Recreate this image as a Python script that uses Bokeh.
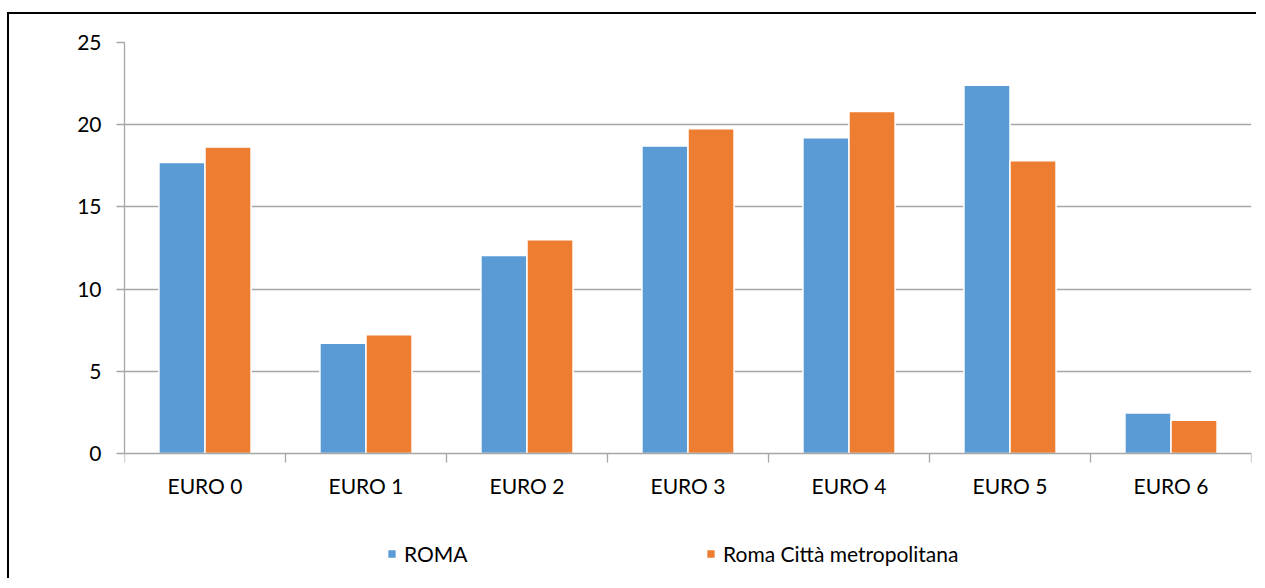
import numpy as np
from bokeh.plotting import figure
from bokeh.models import ColumnDataSource, FixedTicker, Range1d, Legend, LegendItem
from bokeh.embed import file_html
from bokeh.resources import INLINE

categories = ["EURO 0", "EURO 1", "EURO 2", "EURO 3", "EURO 4", "EURO 5", "EURO 6"]
roma = [17.7, 6.7, 12.05, 18.7, 19.2, 22.4, 2.47]
roma_citta = [18.65, 7.22, 13.0, 19.75, 20.8, 17.8, 2.03]
y_ticks = [0, 5, 10, 15, 20, 25]
series_names = ["ROMA", "Roma Città metropolitana"]
colors = ["#5B9BD5", "#ED7D31"]

FONT = "Lato"
n = len(categories)
centers = np.arange(n) + 0.5
bar_w = 0.286

# plot area: 411 px for 0..25, plus extra room under 0 for labels and legend
data_px = 411
extra_px = 125
y_lo = -extra_px * y_ticks[-1] / data_px

src = ColumnDataSource(dict(
    x1=centers - bar_w / 2, x2=centers + bar_w / 2,
    roma=roma, citta=roma_citta,
))

p = figure(
    frame_width=1127, frame_height=data_px + extra_px,
    x_range=Range1d(0, n), y_range=Range1d(y_lo, y_ticks[-1]),
    output_backend="svg", toolbar_location=None,
    min_border_left=115, min_border_right=5,
    min_border_top=28, min_border_bottom=0,
    background_fill_color="white", border_fill_color="white",
    outline_line_color=None,
)
p.styles = {"border-left": "2px solid black", "border-top": "2px solid black",
            "margin-top": "12px", "margin-left": "7px"}

r1 = p.vbar(x="x1", top="roma", width=bar_w, source=src,
            fill_color=colors[0], line_color="white", line_width=1.5)
r2 = p.vbar(x="x2", top="citta", width=bar_w, source=src,
            fill_color=colors[1], line_color="white", line_width=1.5)

grid_col = "#a6a6a6"

# x axis at y=0: labels at category centres, ticks at category boundaries
xa = p.xaxis[0]
xa.fixed_location = 0
xa.ticker = FixedTicker(ticks=list(centers), minor_ticks=list(np.arange(n + 1)))
xa.major_label_overrides = {float(c): lab for c, lab in zip(centers, categories)}
xa.major_tick_out = 0
xa.major_tick_in = 0
xa.minor_tick_out = 9
xa.minor_tick_in = 0
xa.minor_tick_line_color = grid_col
xa.minor_tick_line_width = 1.3
xa.axis_line_color = grid_col
xa.axis_line_width = 1.3
xa.major_label_standoff = 10
xa.major_label_text_font = FONT
xa.major_label_text_font_size = "21px"
xa.major_label_text_color = "black"

ya = p.yaxis[0]
ya.bounds = (y_ticks[0], y_ticks[-1])
ya.ticker = FixedTicker(ticks=y_ticks)
ya.major_tick_out = 8
ya.major_tick_in = 0
ya.minor_tick_line_color = None
ya.major_tick_line_color = grid_col
ya.major_tick_line_width = 1.3
ya.axis_line_color = grid_col
ya.axis_line_width = 1.3
ya.major_label_standoff = 15
ya.major_label_text_font = FONT
ya.major_label_text_font_size = "21px"
ya.major_label_text_color = "black"

p.xgrid.grid_line_color = None
p.ygrid.ticker = FixedTicker(ticks=y_ticks[1:])
p.ygrid.grid_line_color = grid_col
p.ygrid.grid_line_width = 1.3

legend = Legend(
    items=[LegendItem(label=series_names[0], renderers=[r1]),
           LegendItem(label=series_names[1], renderers=[r2])],
    orientation="horizontal",
    location=(262, 12),
    glyph_width=11, glyph_height=11,
    label_standoff=7, label_width=300, spacing=1,
    padding=0, margin=0,
    border_line_color=None, background_fill_alpha=0,
    label_text_font=FONT, label_text_font_size="21px",
    label_text_color="black",
)
p.add_layout(legend, "center")

open("out.html", "w").write(file_html(p, INLINE))
